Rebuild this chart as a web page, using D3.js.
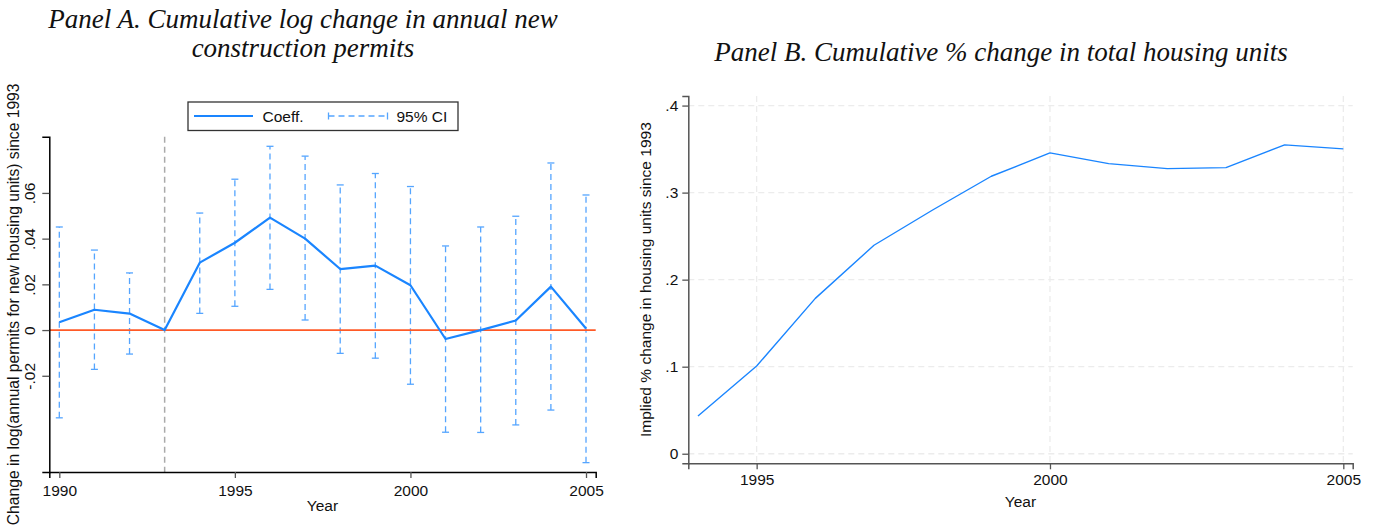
<!DOCTYPE html>
<html>
<head>
<meta charset="utf-8">
<script src="https://cdn.jsdelivr.net/npm/d3@7"></script>
<style>
  body { margin: 0; background: #fff; }
  text { font-family: "Liberation Sans", Arial, sans-serif; fill: #111; }
  .title { font-family: "Liberation Serif", "DejaVu Serif", serif; font-style: italic; font-size: 27px; }
</style>
</head>
<body>
<svg width="1379" height="531"></svg>
<script>
// Panel A data: event-study coefficients and 95% CI
var yearsA = [1990, 1991, 1992, 1993, 1994, 1995, 1996, 1997, 1998, 1999, 2000, 2001, 2002, 2003, 2004, 2005];
var coef   = [0.0034, 0.0089, 0.0072, 0, 0.0295, 0.0382, 0.0492, 0.0400, 0.0267, 0.0282, 0.0196, -0.0039, 0.0000, 0.0042, 0.0190, 0.0007];
var ciLow  = [-0.0384, -0.0172, -0.0105, null, 0.0073, 0.0104, 0.0178, 0.0044, -0.0102, -0.0123, -0.0237, -0.0447, -0.0448, -0.0415, -0.0350, -0.0580];
var ciHigh = [0.0451, 0.0350, 0.0250, null, 0.0512, 0.0660, 0.0804, 0.0761, 0.0635, 0.0685, 0.0628, 0.0368, 0.0451, 0.0498, 0.0731, 0.0591];
var yTicksA = [-0.02, 0, 0.02, 0.04, 0.06];

// Panel B data: implied % change in housing units
var yearsB = [1994, 1995, 1996, 1997, 1998, 1999, 2000, 2001, 2002, 2003, 2004, 2005];
var housing = [0.0433, 0.1008, 0.1785, 0.2395, 0.2800, 0.3188, 0.3456, 0.3333, 0.3276, 0.3287, 0.3548, 0.3502];
var yTicksB = [0, 0.1, 0.2, 0.3, 0.4];

var xTicks = [1990, 1995, 2000, 2005];
var baseYear = 1993;

var blue = "#1a85ff";
var ciBlue = "#55a5ff";
var orange = "#ff5a27";

var svg = d3.select("svg");

function fmt(d) {
    return d === 0 ? "0" : String(d).replace("0.", ".");
}

// shrink/grow a label's font so it spans the width seen in the picture
function fitText(sel, target) {
    var fs = +sel.attr("font-size");
    var w = sel.node().getComputedTextLength();
    sel.attr("font-size", (fs * target / w).toFixed(2));
}

// ---------- Panel A ----------
var xA = d3.scaleLinear().domain([1989.715, 2005.276]).range([49.3, 595.7]);
var yA = d3.scaleLinear().domain([-0.0621, 0.0846]).range([472, 136.7]);

var gA = svg.append("g");

gA.append("text").attr("class", "title")
    .attr("x", 303).attr("y", 28).attr("text-anchor", "middle")
    .text("Panel A. Cumulative log change in annual new");
gA.append("text").attr("class", "title")
    .attr("x", 303).attr("y", 57).attr("text-anchor", "middle")
    .text("construction permits");

// reference lines
gA.append("line")
    .attr("x1", xA(baseYear)).attr("x2", xA(baseYear))
    .attr("y1", yA.range()[1]).attr("y2", yA.range()[0])
    .attr("stroke", "#aaaaaa").attr("stroke-width", 1.5)
    .attr("stroke-dasharray", "6,4");

// confidence intervals
var ciData = yearsA.map(function (y, i) {
    return {year: y, lo: ciLow[i], hi: ciHigh[i]};
}).filter(function (d) { return d.lo !== null; });

var ci = gA.append("g").selectAll("g").data(ciData).enter().append("g");
ci.append("line")
    .attr("x1", function (d) { return xA(d.year); })
    .attr("x2", function (d) { return xA(d.year); })
    .attr("y1", function (d) { return yA(d.lo); })
    .attr("y2", function (d) { return yA(d.hi); })
    .attr("stroke", ciBlue).attr("stroke-width", 1.3)
    .attr("stroke-dasharray", "6,4");
["lo", "hi"].forEach(function (k) {
    ci.append("line")
        .attr("x1", function (d) { return xA(d.year) - 3.5; })
        .attr("x2", function (d) { return xA(d.year) + 3.5; })
        .attr("y1", function (d) { return yA(d[k]); })
        .attr("y2", function (d) { return yA(d[k]); })
        .attr("stroke", ciBlue).attr("stroke-width", 1.3);
});

gA.append("line")
    .attr("x1", xA.range()[0]).attr("x2", xA.range()[1])
    .attr("y1", yA(0)).attr("y2", yA(0))
    .attr("stroke", orange).attr("stroke-width", 1.8);

var lineA = d3.line()
    .x(function (d, i) { return xA(yearsA[i]); })
    .y(function (d) { return yA(d); });
gA.append("path").datum(coef)
    .attr("d", lineA).attr("fill", "none")
    .attr("stroke", blue).attr("stroke-width", 2.2)
    .attr("stroke-linejoin", "round");

// axes
var axA_x = gA.append("g").attr("transform", "translate(0," + yA.range()[0] + ")")
    .call(d3.axisBottom(xA).tickValues(xTicks).tickFormat(d3.format("d")).tickSize(6).tickPadding(4));
var axA_y = gA.append("g").attr("transform", "translate(" + xA.range()[0] + ",0)")
    .call(d3.axisLeft(yA).tickValues(yTicksA).tickFormat(fmt).tickSize(7).tickPadding(5));
[axA_x, axA_y].forEach(function (ax) {
    ax.select(".domain").attr("stroke", "#000").attr("stroke-width", 1.5);
    ax.selectAll(".tick line").attr("stroke", "#555").attr("stroke-width", 1.3);
    ax.selectAll("text").attr("font-size", 15.5).attr("fill", "#111")
        .attr("font-family", "Liberation Sans, Arial, sans-serif");
});
axA_y.selectAll(".tick text")
    .attr("text-anchor", "middle").attr("x", null).attr("dy", null)
    .attr("transform", "translate(-14,0) rotate(-90)");
axA_x.selectAll(".tick text").attr("dy", "0.9em");

gA.append("text").attr("x", (xA.range()[0] + xA.range()[1]) / 2).attr("y", 511)
    .attr("text-anchor", "middle").attr("font-size", 15.5).text("Year");
gA.append("text")
    .attr("transform", "translate(19," + (yA.range()[0] + yA.range()[1]) / 2 + ") rotate(-90)")
    .attr("text-anchor", "middle").attr("font-size", 15)
    .text("Change in log(annual permits for new housing units) since 1993")
    .call(fitText, 442);

// legend
var leg = gA.append("g");
leg.append("rect").attr("x", 188).attr("y", 102).attr("width", 270).attr("height", 28.5)
    .attr("fill", "#fff").attr("stroke", "#333").attr("stroke-width", 1.3);
leg.append("line").attr("x1", 194).attr("x2", 253).attr("y1", 116).attr("y2", 116)
    .attr("stroke", blue).attr("stroke-width", 2.2);
leg.append("text").attr("x", 262.5).attr("y", 121.5).attr("font-size", 15.5).text("Coeff.");
leg.append("line").attr("x1", 328.5).attr("x2", 387.5).attr("y1", 116).attr("y2", 116)
    .attr("stroke", ciBlue).attr("stroke-width", 1.3).attr("stroke-dasharray", "6,4");
[328.5, 387.5].forEach(function (x) {
    leg.append("line").attr("x1", x).attr("x2", x).attr("y1", 112.5).attr("y2", 119.5)
        .attr("stroke", ciBlue).attr("stroke-width", 1.3);
});
leg.append("text").attr("x", 396.5).attr("y", 121.5).attr("font-size", 15.5).text("95% CI");

// ---------- Panel B ----------
var xB = d3.scaleLinear().domain([1993.835, 2005.16]).range([688.3, 1352.7]);
var yB = d3.scaleLinear().domain([-0.011, 0.411]).range([463.3, 96]);

var gB = svg.append("g");

gB.append("text").attr("class", "title")
    .attr("x", 1001).attr("y", 61).attr("text-anchor", "middle")
    .text("Panel B. Cumulative % change in total housing units");

// grid
gB.append("g").selectAll("line").data(yTicksB).enter().append("line")
    .attr("x1", xB.range()[0]).attr("x2", xB.range()[1])
    .attr("y1", function (d) { return yB(d); })
    .attr("y2", function (d) { return yB(d); })
    .attr("stroke", "#ececec").attr("stroke-width", 1.3).attr("stroke-dasharray", "6,4");
gB.append("g").selectAll("line").data([1995, 2000, 2005]).enter().append("line")
    .attr("x1", function (d) { return xB(d); })
    .attr("x2", function (d) { return xB(d); })
    .attr("y1", yB.range()[1]).attr("y2", yB.range()[0])
    .attr("stroke", "#ececec").attr("stroke-width", 1.3).attr("stroke-dasharray", "6,4");

var lineB = d3.line()
    .x(function (d, i) { return xB(yearsB[i]); })
    .y(function (d) { return yB(d); });
gB.append("path").datum(housing)
    .attr("d", lineB).attr("fill", "none")
    .attr("stroke", blue).attr("stroke-width", 1.4)
    .attr("stroke-linejoin", "round");

var axB_x = gB.append("g").attr("transform", "translate(0," + yB.range()[0] + ")")
    .call(d3.axisBottom(xB).tickValues([1995, 2000, 2005]).tickFormat(d3.format("d")).tickSize(6).tickPadding(4));
var axB_y = gB.append("g").attr("transform", "translate(" + xB.range()[0] + ",0)")
    .call(d3.axisLeft(yB).tickValues(yTicksB).tickFormat(fmt).tickSize(6).tickPadding(4));
[axB_x, axB_y].forEach(function (ax) {
    ax.select(".domain").attr("stroke", "#555").attr("stroke-width", 1.5);
    ax.selectAll(".tick line").attr("stroke", "#555").attr("stroke-width", 1.3);
    ax.selectAll("text").attr("font-size", 15.5).attr("fill", "#111")
        .attr("font-family", "Liberation Sans, Arial, sans-serif");
});
axB_x.selectAll(".tick text").attr("dy", "0.75em");

gB.append("text").attr("x", (xB.range()[0] + xB.range()[1]) / 2).attr("y", 507)
    .attr("text-anchor", "middle").attr("font-size", 15.5).text("Year");
gB.append("text")
    .attr("transform", "translate(651," + (yB.range()[0] + yB.range()[1]) / 2 + ") rotate(-90)")
    .attr("text-anchor", "middle").attr("font-size", 15)
    .text("Implied % change in housing units since 1993")
    .call(fitText, 315);
</script>
</body>
</html>
